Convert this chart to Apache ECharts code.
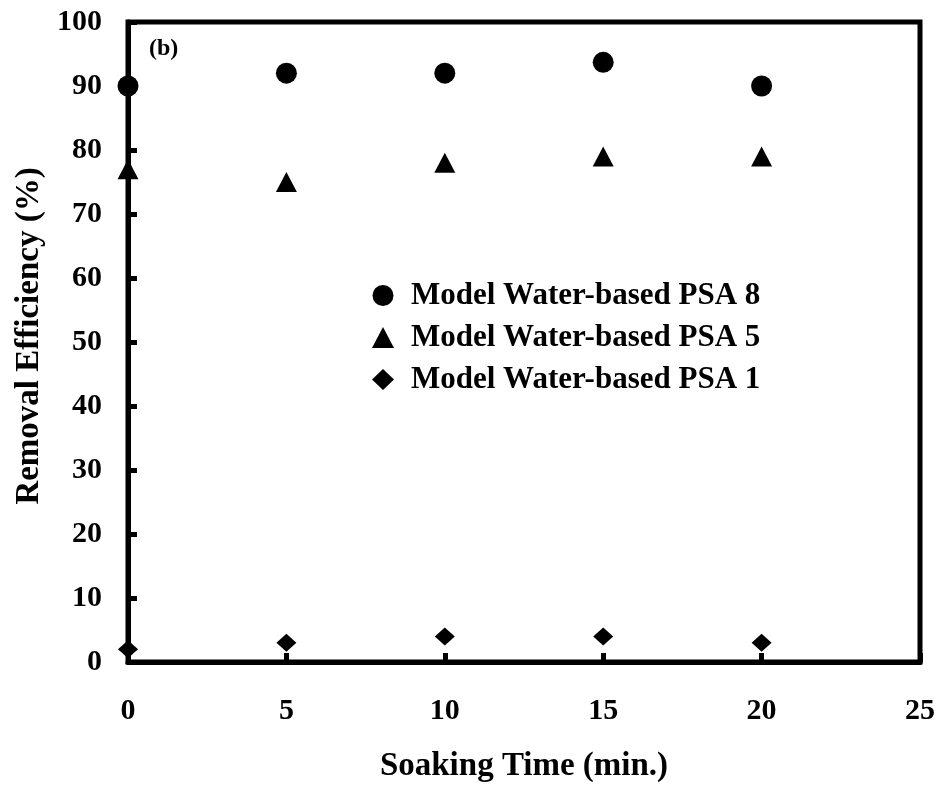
<!DOCTYPE html>
<html>
<head>
<meta charset="utf-8">
<script src="https://cdn.jsdelivr.net/npm/echarts@6/dist/echarts.min.js"></script>
<style>
  html, body { margin: 0; padding: 0; background: #fff; }
  #chart { width: 940px; height: 788px; }
</style>
</head>
<body>
<div id="chart"></div>
<script>
// Soaking time (min.)
const soakingTime = [0, 5, 10, 15, 20];
// Removal efficiency (%) for each model water-based PSA
const psa8 = [90, 92, 92, 93.7, 90];
const psa5 = [77, 75, 78, 79, 79];
const psa1 = [2, 3, 4, 4, 3];
const seriesNames = ['Model Water-based PSA 8', 'Model Water-based PSA 5', 'Model Water-based PSA 1'];

const FONT = '"Liberation Serif", "Times New Roman", serif';

function pairs(xs, ys) { return xs.map((x, i) => [x, ys[i]]); }

const chart = echarts.init(document.getElementById('chart'), null, { renderer: 'canvas' });

const axisText = { fontFamily: FONT, fontWeight: 'bold', fontSize: 30, color: '#000' };
const nameText = { fontFamily: FONT, fontWeight: 'bold', fontSize: 33, color: '#000' };

chart.setOption({
  backgroundColor: '#fff',
  animation: false,
  title: {
    text: '(b)',
    left: 144, top: 32,
    textStyle: { fontFamily: FONT, fontWeight: 'bold', fontSize: 24, color: '#000' }
  },
  grid: {
    left: 128, right: 20, top: 22, bottom: 124,
    show: true, borderColor: '#000', borderWidth: 5, backgroundColor: 'transparent'
  },
  legend: {
    orient: 'vertical',
    left: 367, top: 275,
    itemWidth: 22, itemHeight: 21, itemGap: 11,
    data: [
      { name: seriesNames[0], icon: 'circle' },
      { name: seriesNames[1], icon: 'triangle' },
      { name: seriesNames[2], icon: 'diamond' }
    ],
    itemStyle: { color: '#000', opacity: 1 },
    textStyle: { fontFamily: FONT, fontWeight: 'bold', fontSize: 31, color: '#000', lineHeight: 30, padding: [0, 0, 0, 12] }
  },
  xAxis: {
    type: 'value', min: 0, max: 25, interval: 5,
    name: 'Soaking Time (min.)', nameLocation: 'middle', nameGap: 88,
    nameTextStyle: nameText,
    axisLine: { show: true, lineStyle: { color: '#000', width: 5 } },
    axisTick: { show: true, inside: true, length: 9, lineStyle: { color: '#000', width: 5 } },
    axisLabel: Object.assign({ margin: 34 }, axisText),
    splitLine: { show: false }
  },
  yAxis: {
    type: 'value', min: 0, max: 100, interval: 10,
    name: 'Removal Efficiency (%)', nameLocation: 'middle', nameGap: 82,
    nameTextStyle: Object.assign({ padding: [0, 0, 0, 12] }, nameText),
    axisLine: { show: true, lineStyle: { color: '#000', width: 5 } },
    axisTick: { show: true, inside: true, length: 9, lineStyle: { color: '#000', width: 5 } },
    axisLabel: Object.assign({ margin: 26 }, axisText),
    splitLine: { show: false }
  },
  series: [
    {
      name: seriesNames[0], type: 'scatter', symbol: 'circle', symbolSize: 21,
      itemStyle: { color: '#000', opacity: 1 }, clip: false, z: 5,
      data: pairs(soakingTime, psa8)
    },
    {
      name: seriesNames[1], type: 'scatter', symbol: 'triangle', symbolSize: [21, 20],
      itemStyle: { color: '#000', opacity: 1 }, clip: false, z: 5,
      data: pairs(soakingTime, psa5)
    },
    {
      name: seriesNames[2], type: 'scatter', symbol: 'diamond', symbolSize: [20, 18],
      itemStyle: { color: '#000', opacity: 1 }, clip: false, z: 5,
      data: pairs(soakingTime, psa1)
    }
  ]
});
</script>
</body>
</html>
